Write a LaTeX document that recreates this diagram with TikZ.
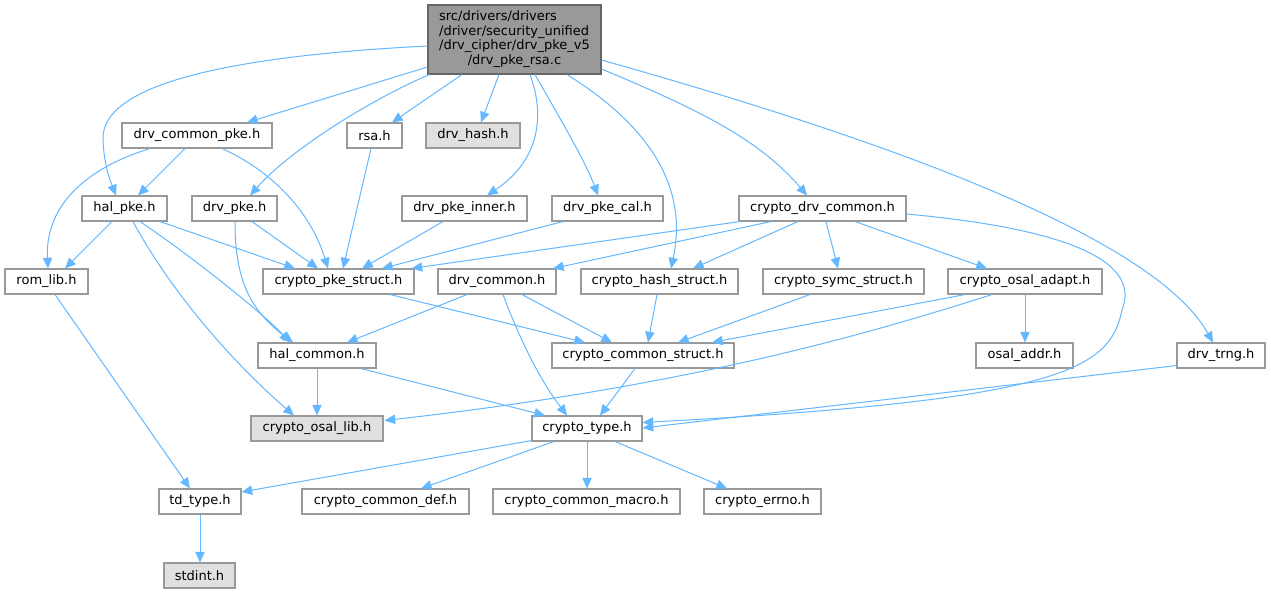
\documentclass[tikz,border=0pt]{standalone}
\usepackage{fontspec}
\setmainfont{DejaVu Sans}
\usetikzlibrary{arrows.meta,calc}
\definecolor{edgec}{HTML}{63B8FF}
\definecolor{bordc}{HTML}{999999}
\definecolor{rootf}{HTML}{999999}
\definecolor{rootb}{HTML}{666666}
\definecolor{grayf}{HTML}{E0E0E0}
\begin{document}
\begin{tikzpicture}[x=0.75pt,y=-0.75pt,
  nd/.style={draw=bordc, fill=white, line width=0.8pt, inner sep=0pt,
             minimum height=18.75pt, font=\fontsize{9.75}{11}\selectfont},
  bw/.style={minimum width=#1*0.75pt},
  gr/.style={fill=grayf},
  e/.style={draw=edgec, line width=0.75pt, -{Triangle[length=8pt,width=7pt]}},
]
\useasboundingbox[fill=white] (0,0) rectangle (1271,593);

% nodes
\node[nd,bw=173,minimum height=51.75pt,fill=rootf,draw=rootb] (root) at (514.5,39.5)
  {\begin{tabular}{@{}l@{}}src/drivers/drivers\\/driver/security\_unified\\/drv\_cipher/drv\_pke\_v5\\\multicolumn{1}{@{}c@{}}{/drv\_pke\_rsa.c}\end{tabular}};
\node[nd,bw=150] (dcpke) at (197,135.5) {drv\_common\_pke.h};
\node[nd,bw=55] (rsa) at (374.5,135.5) {rsa.h};
\node[nd,bw=94,gr] (drvhash) at (473,135.5) {drv\_hash.h};
\node[nd,bw=85] (halpke) at (124.5,208.5) {hal\_pke.h};
\node[nd,bw=85] (drvpke) at (234.5,208.5) {drv\_pke.h};
\node[nd,bw=125] (inner) at (464.5,208.5) {drv\_pke\_inner.h};
\node[nd,bw=111] (cal) at (607.5,208.5) {drv\_pke\_cal.h};
\node[nd,bw=167] (cdc) at (822.5,208.5) {crypto\_drv\_common.h};
\node[nd,bw=83] (romlib) at (46.5,281.5) {rom\_lib.h};
\node[nd,bw=151] (pkestruct) at (338.5,281.5) {crypto\_pke\_struct.h};
\node[nd,bw=118] (drvcommon) at (497,281.5) {drv\_common.h};
\node[nd,bw=157] (hashstruct) at (659.5,281.5) {crypto\_hash\_struct.h};
\node[nd,bw=161] (symc) at (843.5,281.5) {crypto\_symc\_struct.h};
\node[nd,bw=154] (osaladapt) at (1025,281.5) {crypto\_osal\_adapt.h};
\node[nd,bw=118] (halcommon) at (317,355.5) {hal\_common.h};
\node[nd,bw=182] (commonstruct) at (643,355.5) {crypto\_common\_struct.h};
\node[nd,bw=97] (osaladdr) at (1024.5,355.5) {osal\_addr.h};
\node[nd,bw=88] (drvtrng) at (1221,355.5) {drv\_trng.h};
\node[nd,bw=132,gr] (osallib) at (317,428.5) {crypto\_osal\_lib.h};
\node[nd,bw=110] (ctype) at (587,428.5) {crypto\_type.h};
\node[nd,bw=82] (tdtype) at (200,501.5) {td\_type.h};
\node[nd,bw=167] (cdef) at (385.5,501.5) {crypto\_common\_def.h};
\node[nd,bw=187] (cmacro) at (586.5,501.5) {crypto\_common\_macro.h};
\node[nd,bw=117] (errno) at (762.5,501.5) {crypto\_errno.h};
\node[nd,bw=71,gr] (stdint) at (199.5,575.5) {stdint.h};

% edges from root
\draw[e] ($(root.west)+(0,6.5)$) .. controls (250,55) and (100,80) .. (103,140)
         .. controls (104,165) and (110,180) .. ($(halpke.north)+(-8.5,0)$);
\draw[e] ($(root.west)+(0,27.5)$) -- ($(dcpke.north)+(50,0)$);
\draw[e] ($(root.south west)+(2,0)$) .. controls (370,100) and (290,150) .. ($(drvpke.north)+(15.5,0)$);
\draw[e] ($(root.south)+(-52.5,0)$) -- ($(rsa.north)+(17.5,0)$);
\draw[e] ($(root.south)+(-15.5,0)$) -- ($(drvhash.north)+(8,0)$);
\draw[e] ($(root.south)+(15.5,0)$) .. controls (545,115) and (540,160) .. ($(inner.north)+(22.5,0)$);
\draw[e] ($(root.south)+(20.5,0)$) .. controls (555,110) and (585,160) .. ($(cal.north)+(-9.5,0)$);
\draw[e] ($(root.south)+(52.5,0)$) .. controls (640,120) and (690,180) .. ($(hashstruct.north)+(11.5,0)$);
\draw[e] ($(root.east)+(0,29.5)$) .. controls (700,110) and (760,140) .. ($(cdc.north)+(-15.5,0)$);
\draw[e] ($(root.east)+(0,20.5)$) .. controls (850,130) and (1150,230) .. ($(drvtrng.north)+(-8,0)$);

% drv_common_pke.h
\draw[e] ($(dcpke.south)+(-47,0)$) .. controls (80,170) and (45,210) .. ($(romlib.north)+(1.5,0)$);
\draw[e] ($(dcpke.south)+(-12,0)$) -- ($(halpke.north)+(13.5,0)$);
\draw[e] ($(dcpke.south)+(25,0)$) .. controls (270,170) and (310,210) .. ($(pkestruct.north)+(-10.5,0)$);
% rsa.h
\draw[e] ($(rsa.south)+(-3.5,0)$) -- ($(pkestruct.north)+(4.5,0)$);
% hal_pke.h
\draw[e] ($(halpke.south)+(-12.5,0)$) -- ($(romlib.north)+(18.5,0)$);
\draw[e] ($(halpke.south)+(35.5,0)$) -- ($(pkestruct.north)+(-43.5,0)$);
\draw[e] ($(halpke.south)+(15.5,0)$) .. controls (190,255) and (265,315) .. ($(halcommon.north)+(-27,0)$);
\draw[e] ($(halpke.south)+(8.5,0)$) .. controls (170,290) and (230,360) .. ($(osallib.north)+(-23,0)$);
% drv_pke.h
\draw[e] ($(drvpke.south)+(17.5,0)$) -- ($(pkestruct.north)+(-20.5,0)$);
\draw[e] ($(drvpke.south)+(0.5,0)$) .. controls (235,280) and (250,310) .. ($(halcommon.north)+(-24,0)$);
% drv_pke_inner.h, drv_pke_cal.h
\draw[e] ($(inner.south)+(-21.5,0)$) -- ($(pkestruct.north)+(23.5,0)$);
\draw[e] ($(cal.south)+(-44.5,0)$) -- ($(pkestruct.north)+(43.5,0)$);
% crypto_drv_common.h
\draw[e] ($(cdc.south)+(-82.5,0)$) -- ($(pkestruct.north east)+(-3,0)$);
\draw[e] ($(cdc.south)+(-51.5,0)$) -- ($(drvcommon.north)+(56,0)$);
\draw[e] ($(cdc.south)+(-24.5,0)$) -- ($(hashstruct.north)+(33.5,0)$);
\draw[e] ($(cdc.south)+(3.5,0)$) -- ($(symc.north)+(-5.5,0)$);
\draw[e] ($(cdc.south)+(32.5,0)$) -- ($(osaladapt.north)+(-38,0)$);
\draw[e] ($(cdc.east)+(0,5.5)$) .. controls (1080,230) and (1140,265) .. (1122,310)
         .. controls (1110,370) and (1060,400) .. ($(ctype.east)+(0,-6)$);
% drv_trng.h
\draw[e] ($(drvtrng.south west)+(0,-3)$) -- ($(ctype.east)+(0,-0.5)$);
% drv_common.h
\draw[e] ($(drvcommon.south)+(-30,0)$) -- ($(halcommon.north)+(30,0)$);
\draw[e] ($(drvcommon.south)+(6,0)$) .. controls (520,340) and (540,380) .. ($(ctype.north)+(-20,0)$);
\draw[e] ($(drvcommon.south)+(25,0)$) -- ($(commonstruct.north)+(-31,0)$);
% structs to crypto_common_struct.h
\draw[e] ($(pkestruct.south)+(51.5,0)$) -- ($(commonstruct.north)+(-58,0)$);
\draw[e] ($(hashstruct.south)+(-2.5,0)$) -- ($(commonstruct.north)+(5,0)$);
\draw[e] ($(symc.south)+(-33.5,0)$) -- ($(commonstruct.north)+(35,0)$);
% crypto_osal_adapt.h
\draw[e] ($(osaladapt.south)+(-60,0)$) -- ($(commonstruct.north)+(69,0)$);
\draw[e] (osaladapt.south) -- (osaladapt.south |- osaladdr.north);
\draw[e] ($(osaladapt.south)+(-33,0)$) .. controls (880,330) and (700,385) .. ($(osallib.east)+(1,-8)$);
% hal_common.h
\draw[e] (halcommon.south) -- (osallib.north);
\draw[e] ($(halcommon.south)+(44,0)$) -- ($(ctype.north)+(-42,0)$);
% crypto_common_struct.h
\draw[e] ($(commonstruct.south)+(-8,0)$) -- ($(ctype.north)+(13,0)$);
% crypto_type.h
\draw[e] ($(ctype.south west)+(0,-1)$) -- ($(tdtype.east)+(0,-9.5)$);
\draw[e] ($(ctype.south)+(-33,0)$) -- ($(cdef.north)+(35.5,0)$);
\draw[e] (ctype.south) -- (ctype.south |- cmacro.north);
\draw[e] ($(ctype.south)+(28,0)$) -- ($(errno.north)+(-35.5,0)$);
% rom_lib.h, td_type.h
\draw[e] ($(romlib.south)+(8.5,0)$) -- ($(tdtype.north)+(-10,0)$);
\draw[e] (tdtype.south) -- (tdtype.south |- stdint.north);
\end{tikzpicture}
\end{document}
